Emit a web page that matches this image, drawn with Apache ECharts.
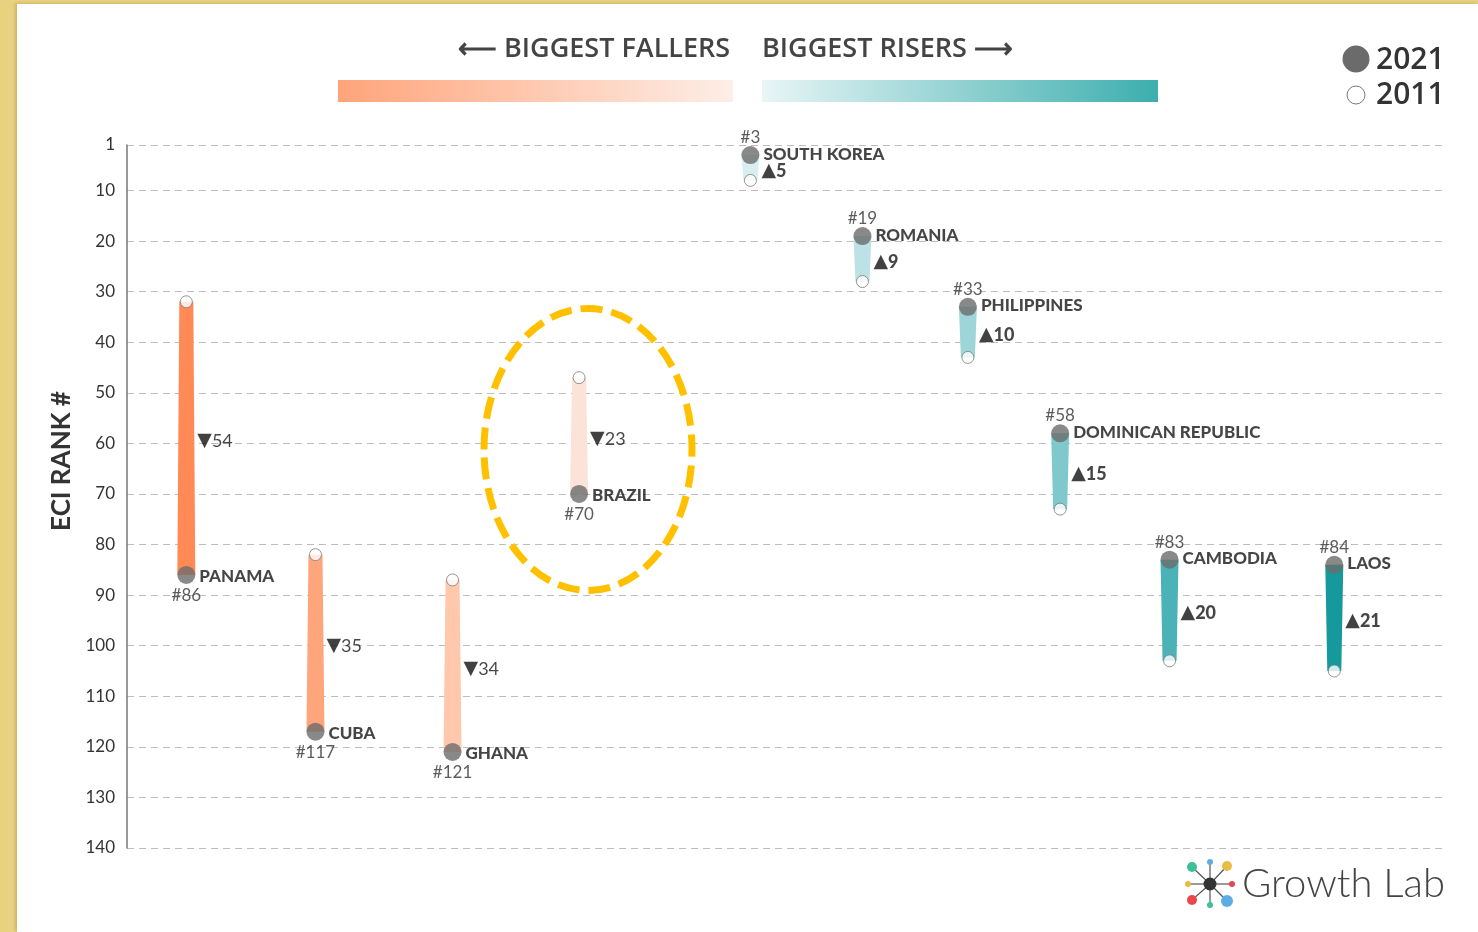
<!DOCTYPE html>
<html>
<head>
<meta charset="utf-8">
<title>ECI rank changes 2011-2021</title>
<script src="https://cdn.jsdelivr.net/npm/echarts@6/dist/echarts.min.js"></script>
<style>
  html, body { margin: 0; padding: 0; background: #E9D27F; }
  #frame {
    position: absolute; left: 17px; top: 4px; right: 0; bottom: 0;
    background: #fff;
    box-shadow: -2px -1px 3px rgba(0,0,0,0.15);
  }
  #main { position: absolute; left: 0; top: 0; width: 1478px; height: 932px; }
</style>
</head>
<body>
<div id="frame"></div>
<div id="main"></div>
<script>
  // countries, left (fallers) to right (risers)
  const countries = ['PANAMA', 'CUBA', 'GHANA', 'BRAZIL', 'SOUTH KOREA', 'ROMANIA',
    'PHILIPPINES', 'DOMINICAN REPUBLIC', 'CAMBODIA', 'LAOS'];
  // horizontal slot of each country (0-100)
  const slots = [4.5, 14.3, 24.7, 34.3, 47.3, 55.8, 63.8, 70.8, 79.1, 91.6];
  const rank2011 = [32, 82, 87, 47, 8, 28, 43, 73, 103, 105];
  const rank2021 = [86, 117, 121, 70, 3, 19, 33, 58, 83, 84];
  const barColors = ['#FF8A55', '#FFA57C', '#FFC8AD', '#FCE3D8', '#D8EEF0',
    '#BCE2E5', '#9DD5D8', '#7FC9CC', '#4BB3B7', '#16999C'];
  const yTicks = [1, 10, 20, 30, 40, 50, 60, 70, 80, 90, 100, 110, 120, 130, 140];

  const txt = '#161616';
  const font = 'Lato, "Open Sans", sans-serif';
  const head = '600 27px "Open Sans", Lato, sans-serif';

  let chart = echarts.init(document.getElementById('main'));

  const data2011 = countries.map((c, i) => [slots[i], rank2011[i]]);
  const data2021 = countries.map((c, i) => ({
    name: c, value: [slots[i], rank2021[i]], fall: rank2021[i] > rank2011[i],
    label: { offset: [0, rank2021[i] > rank2011[i] ? 2 : -1] }
  }));
  const dataMid = countries.map((c, i) => ({
    value: [slots[i], (rank2011[i] + rank2021[i]) / 2],
    change: rank2021[i] - rank2011[i]
  }));

  let option = {
    animation: false,
    backgroundColor: 'transparent',
    grid: { left: 127, right: 33, top: 145, bottom: 84 },
    xAxis: {
      type: 'value', min: 0, max: 100,
      axisLine: { show: false }, axisTick: { show: false },
      axisLabel: { show: false }, splitLine: { show: false }
    },
    yAxis: {
      type: 'value', inverse: true, min: 1, max: 140,
      axisLine: { show: true, lineStyle: { color: '#777', width: 1.5 } },
      axisTick: { show: false, customValues: yTicks },
      axisLabel: {
        customValues: yTicks, fontSize: 17, color: '#333', margin: 12, fontFamily: font
      },
      splitLine: { show: true, lineStyle: { color: '#bdbdbd', type: [7, 5], width: 1 } }
    },
    series: [
      {
        // tapered bar from 2011 rank to 2021 rank
        type: 'custom',
        data: countries.map((c, i) => [slots[i], rank2011[i], rank2021[i]]),
        renderItem: function (params, api) {
          const a = api.coord([api.value(0), api.value(1)]);
          const b = api.coord([api.value(0), api.value(2)]);
          const wa = 7, wb = 9;
          return {
            type: 'polygon',
            shape: { points: [[a[0] - wa, a[1]], [a[0] + wa, a[1]], [b[0] + wb, b[1]], [b[0] - wb, b[1]]] },
            style: { fill: barColors[params.dataIndex] }
          };
        },
        z: 1
      },
      {
        type: 'scatter', name: '2011', data: data2011,
        symbolSize: 12,
        itemStyle: { color: '#fff', borderColor: '#7a7a7a', borderWidth: 1 },
        z: 3
      },
      {
        type: 'scatter', name: '2021', data: data2021,
        symbolSize: 18,
        itemStyle: { color: '#6b6b6b' },
        label: {
          show: true, position: 'right', distance: 4,
          formatter: p => p.name,
          fontSize: 17, fontWeight: 900, color: txt, fontFamily: font
        },
        z: 4
      },
      {
        // rank label: below for fallers, above for risers
        type: 'scatter', data: data2021.map(d => ({
          value: d.value,
          label: { position: d.fall ? 'bottom' : 'top', distance: d.fall ? 4 : 1 }
        })),
        symbolSize: 16, itemStyle: { color: 'transparent' }, silent: true,
        label: {
          show: true, formatter: p => '#' + p.value[1],
          fontSize: 17, color: '#333', fontFamily: font
        },
        labelLayout: { hideOverlap: false },
        z: 5
      },
      {
        // change label at middle of bar
        type: 'scatter', data: dataMid,
        symbolSize: 2, itemStyle: { color: 'transparent' }, silent: true,
        label: {
          show: true, position: 'right', distance: 10,
          formatter: function (p) {
            const ch = dataMid[p.dataIndex].change;
            return ch > 0 ? '{dn|▼}{n|' + ch + '}' : '{up|▲}{b|' + (-ch) + '}';
          },
          rich: {
            dn: { fontSize: 19, color: '#111', fontFamily: 'DejaVu Sans' },
            up: { fontSize: 19, color: '#111', fontFamily: 'DejaVu Sans' },
            n: { fontSize: 18, color: txt, fontFamily: font },
            b: { fontSize: 18, color: txt, fontWeight: 900, fontFamily: font }
          }
        },
        labelLayout: { hideOverlap: false, dy: 3 },
        z: 5
      }
    ],
    graphic: [
      {
        type: 'text', x: 62, y: 461, rotation: Math.PI / 2,
        style: {
          text: 'ECI RANK #', font: 'bold 26px Lato, "Open Sans", sans-serif', fill: '#333',
          align: 'center', verticalAlign: 'middle'
        }
      },
      {
        type: 'text', left: 458, top: 36,
        style: { text: '⟵ BIGGEST FALLERS', font: head, fill: '#444' }
      },
      {
        type: 'text', left: 762, top: 36,
        style: { text: 'BIGGEST RISERS ⟶', font: head, fill: '#444' }
      },
      {
        type: 'rect', shape: { x: 338, y: 80, width: 395, height: 22 },
        style: { fill: new echarts.graphic.LinearGradient(0, 0, 1, 0, [
          { offset: 0, color: '#FFA47A' }, { offset: 1, color: '#FDEEE7' }]) }
      },
      {
        type: 'rect', shape: { x: 762, y: 80, width: 396, height: 22 },
        style: { fill: new echarts.graphic.LinearGradient(0, 0, 1, 0, [
          { offset: 0, color: '#E8F5F6' }, { offset: 1, color: '#3DAEAE' }]) }
      },
      // legend
      { type: 'circle', shape: { cx: 1356, cy: 59, r: 13.5 }, style: { fill: '#6b6b6b' } },
      { type: 'text', left: 1376, top: 45, style: { text: '2021', font: '600 30px "Open Sans", Lato, sans-serif', fill: '#333' } },
      { type: 'circle', shape: { cx: 1356, cy: 95, r: 9 }, style: { fill: '#fff', stroke: '#777', lineWidth: 1 } },
      { type: 'text', left: 1376, top: 80, style: { text: '2011', font: '600 30px "Open Sans", Lato, sans-serif', fill: '#333' } },
      // highlight around Brazil
      {
        type: 'ellipse', shape: { cx: 588, cy: 449.5, rx: 104, ry: 141 },
        style: { fill: 'none', stroke: '#FFC000', lineWidth: 7, lineDash: [22, 9] },
        z: 10
      },
      // Growth Lab logo
      {
        type: 'group', left: 1185, top: 859,
        children: [
          { type: 'line', shape: { x1: 26, y1: 25, x2: 26, y2: 3 }, style: { stroke: '#555', lineWidth: 1.2 } },
          { type: 'line', shape: { x1: 26, y1: 25, x2: 43, y2: 7 }, style: { stroke: '#555', lineWidth: 1.2 } },
          { type: 'line', shape: { x1: 26, y1: 25, x2: 48, y2: 25 }, style: { stroke: '#555', lineWidth: 1.2 } },
          { type: 'line', shape: { x1: 26, y1: 25, x2: 43, y2: 42 }, style: { stroke: '#555', lineWidth: 1.2 } },
          { type: 'line', shape: { x1: 26, y1: 25, x2: 26, y2: 46 }, style: { stroke: '#555', lineWidth: 1.2 } },
          { type: 'line', shape: { x1: 26, y1: 25, x2: 8, y2: 41 }, style: { stroke: '#555', lineWidth: 1.2 } },
          { type: 'line', shape: { x1: 26, y1: 25, x2: 4, y2: 25 }, style: { stroke: '#555', lineWidth: 1.2 } },
          { type: 'line', shape: { x1: 26, y1: 25, x2: 8, y2: 8 }, style: { stroke: '#555', lineWidth: 1.2 } },
          { type: 'circle', shape: { cx: 26, cy: 3, r: 3 }, style: { fill: '#5DADE2' } },
          { type: 'circle', shape: { cx: 43, cy: 7, r: 5 }, style: { fill: '#E8BD45' } },
          { type: 'circle', shape: { cx: 48, cy: 25, r: 3 }, style: { fill: '#E8474B' } },
          { type: 'circle', shape: { cx: 43, cy: 42, r: 6 }, style: { fill: '#5DADE2' } },
          { type: 'circle', shape: { cx: 26, cy: 46, r: 3 }, style: { fill: '#3DBF9A' } },
          { type: 'circle', shape: { cx: 8, cy: 41, r: 5 }, style: { fill: '#E8474B' } },
          { type: 'circle', shape: { cx: 4, cy: 25, r: 3 }, style: { fill: '#E8BD45' } },
          { type: 'circle', shape: { cx: 8, cy: 8, r: 5 }, style: { fill: '#3DBF9A' } },
          { type: 'circle', shape: { cx: 26, cy: 25, r: 6.5 }, style: { fill: '#333' } }
        ]
      },
      {
        type: 'text', left: 1242, top: 864,
        style: { text: 'Growth Lab', font: '300 40px Lato, "Open Sans", sans-serif', fill: '#444' }
      }
    ]
  };

  chart.setOption(option);
</script>
</body>
</html>
